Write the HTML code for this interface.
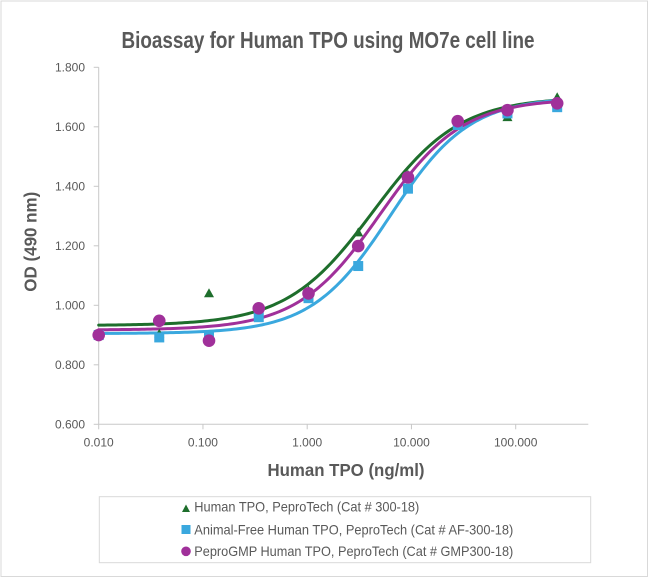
<!DOCTYPE html>
<html>
<head>
<meta charset="utf-8">
<style>
  html,body{margin:0;padding:0;background:#fff;}
  svg{display:block;}
  text{font-family:"Liberation Sans",Arial,sans-serif;}
</style>
</head>
<body>
<svg id="chart" width="650" height="578" viewBox="0 0 650 578" xmlns="http://www.w3.org/2000/svg">
  <rect x="0" y="0" width="650" height="578" fill="#fff"/>
  <rect x="1" y="1" width="646.5" height="575.5" fill="none" stroke="#d9d9d9" stroke-width="1"/>

  <!-- Title -->
  <text x="328" y="48" text-anchor="middle" font-size="23" font-weight="bold" fill="#595959" textLength="413" lengthAdjust="spacingAndGlyphs">Bioassay for Human TPO using MO7e cell line</text>

  <!-- Axes -->
  <g stroke="#c8c8c8" stroke-width="1" fill="none">
    <line x1="98.7" y1="67.3" x2="98.7" y2="424.3"/>
    <line x1="98.7" y1="424.3" x2="588.3" y2="424.3"/>
    <line x1="93.7" y1="67.3" x2="98.7" y2="67.3"/>
    <line x1="93.7" y1="126.8" x2="98.7" y2="126.8"/>
    <line x1="93.7" y1="186.3" x2="98.7" y2="186.3"/>
    <line x1="93.7" y1="245.8" x2="98.7" y2="245.8"/>
    <line x1="93.7" y1="305.3" x2="98.7" y2="305.3"/>
    <line x1="93.7" y1="364.8" x2="98.7" y2="364.8"/>
    <line x1="93.7" y1="424.3" x2="98.7" y2="424.3"/>
    <line x1="98.7" y1="424.3" x2="98.7" y2="429.3"/>
    <line x1="202.95" y1="424.3" x2="202.95" y2="429.3"/>
    <line x1="307.2" y1="424.3" x2="307.2" y2="429.3"/>
    <line x1="411.45" y1="424.3" x2="411.45" y2="429.3"/>
    <line x1="515.7" y1="424.3" x2="515.7" y2="429.3"/>
  </g>

  <!-- Y tick labels -->
  <g font-size="12" fill="#595959" text-anchor="end">
    <text x="85" y="71.6">1.800</text>
    <text x="85" y="131.1">1.600</text>
    <text x="85" y="190.6">1.400</text>
    <text x="85" y="250.1">1.200</text>
    <text x="85" y="309.6">1.000</text>
    <text x="85" y="369.1">0.800</text>
    <text x="85" y="428.6">0.600</text>
  </g>
  <!-- X tick labels -->
  <g font-size="12" fill="#595959" text-anchor="middle">
    <text x="98.7" y="446.7">0.010</text>
    <text x="202.95" y="446.7">0.100</text>
    <text x="307.2" y="446.7">1.000</text>
    <text x="411.45" y="446.7">10.000</text>
    <text x="515.7" y="446.7">100.000</text>
  </g>

  <!-- Axis titles -->
  <text x="346" y="476" text-anchor="middle" font-size="17.5" font-weight="bold" fill="#595959" textLength="157" lengthAdjust="spacingAndGlyphs">Human TPO (ng/ml)</text>
  <text transform="translate(36.5,241.7) rotate(-90)" x="0" y="0" text-anchor="middle" font-size="17.5" font-weight="bold" fill="#595959" textLength="100" lengthAdjust="spacingAndGlyphs">OD (490 nm)</text>

  <!-- Curves -->
  <g id="curves" fill="none" stroke-width="3" stroke-linejoin="round" stroke-linecap="round">
    <path id="cg" stroke="#1e6e2c"/>
    <path id="cb" stroke="#3aa8de"/>
    <path id="cp" stroke="#a0309a"/>
  </g>
  <g id="markers"></g>

  <!-- Legend -->
  <rect x="99.3" y="496.7" width="491.4" height="66" fill="#fff" stroke="#d9d9d9" stroke-width="1"/>
  <polygon points="182,512 190,512 186,504.5" fill="#1e6e2c"/>
  <rect x="181.5" y="525" width="9" height="9" fill="#3aa8de"/>
  <circle cx="186" cy="551.3" r="4.8" fill="#a0309a"/>
  <g font-size="14" fill="#595959">
    <text x="194.3" y="511.7" textLength="225" lengthAdjust="spacingAndGlyphs">Human TPO, PeproTech (Cat # 300-18)</text>
    <text x="194.3" y="534.3" textLength="319" lengthAdjust="spacingAndGlyphs">Animal-Free Human TPO, PeproTech (Cat # AF-300-18)</text>
    <text x="194.3" y="556" textLength="319" lengthAdjust="spacingAndGlyphs">PeproGMP Human TPO, PeproTech (Cat # GMP300-18)</text>
  </g>
</svg>
<script>
(function(){
  function X(c){return 98.7 + Math.log10(c/0.01)*104.25;}
  function Y(v){return 67.3 + (1.8 - v)*297.5;}
  function fpl(A,D,C,B){return function(x){return D + (A-D)/(1+Math.pow(x/C,B));};}
  function path(f){
    var d='';
    var lo=Math.log10(0.01), hi=Math.log10(250);
    var n=160;
    for(var i=0;i<=n;i++){
      var lx=lo+(hi-lo)*i/n, x=Math.pow(10,lx);
      d+=(i?'L':'M')+X(x).toFixed(2)+','+Y(f(x)).toFixed(2);
    }
    return d;
  }
  document.getElementById('cg').setAttribute('d',path(fpl(0.932,1.70,4.3,1.05)));
  document.getElementById('cb').setAttribute('d',path(fpl(0.905,1.70,6.3,1.15)));
  document.getElementById('cp').setAttribute('d',path(fpl(0.917,1.695,5.0,1.1)));

  var conc=[0.01,0.0381,0.1143,0.3429,1.029,3.086,9.259,27.78,83.33,250];
  var green=[0.900,0.906,1.042,0.985,1.052,1.247,1.440,1.610,1.634,1.701];
  var blue=[0.900,0.892,0.900,0.960,1.024,1.132,1.392,1.606,1.645,1.666];
  var purple=[0.900,0.948,0.881,0.990,1.040,1.199,1.430,1.619,1.656,1.679];
  var ns='http://www.w3.org/2000/svg';
  var g=document.getElementById('markers');
  function el(t,a){var e=document.createElementNS(ns,t);for(var k in a)e.setAttribute(k,a[k]);g.appendChild(e);}
  for(var i=0;i<conc.length;i++){
    var x=X(conc[i]), y=Y(green[i]);
    el('polygon',{points:(x-5)+','+(y+4.5)+' '+(x+5)+','+(y+4.5)+' '+x+','+(y-4.5),fill:'#1e6e2c'});
  }
  for(var i=0;i<conc.length;i++){
    var x=X(conc[i]), y=Y(blue[i]);
    el('rect',{x:x-5,y:y-5,width:10,height:10,fill:'#3aa8de'});
  }
  for(var i=0;i<conc.length;i++){
    var x=X(conc[i]), y=Y(purple[i]);
    el('circle',{cx:x,cy:y,r:6.3,fill:'#a0309a'});
  }
})();
</script>
</body>
</html>
